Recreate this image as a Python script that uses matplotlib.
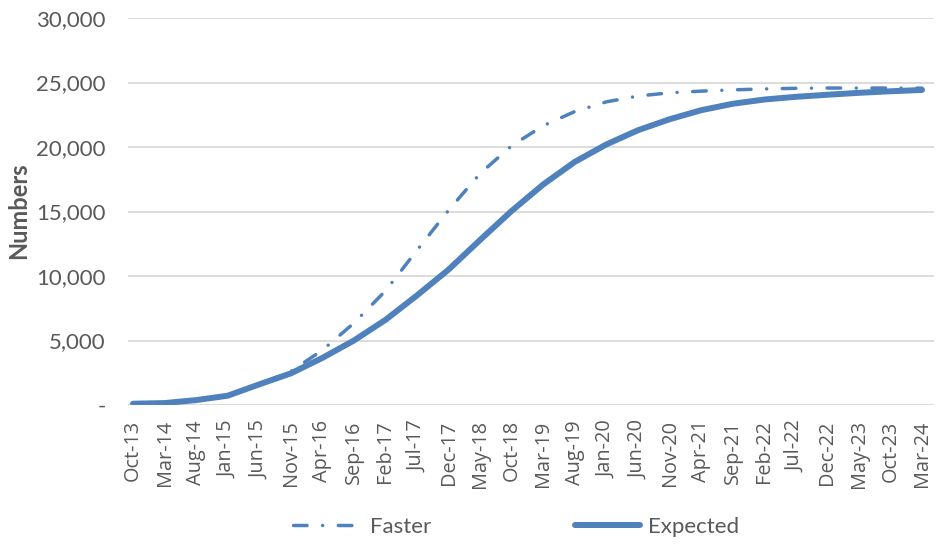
import matplotlib
matplotlib.use("Agg")
import matplotlib.pyplot as plt
from matplotlib.lines import Line2D

# ---- data (values read at every 5th month, Oct-13 .. Mar-24) ----
tick_labels = ["Oct-13", "Mar-14", "Aug-14", "Jan-15", "Jun-15", "Nov-15", "Apr-16",
               "Sep-16", "Feb-17", "Jul-17", "Dec-17", "May-18", "Oct-18", "Mar-19",
               "Aug-19", "Jan-20", "Jun-20", "Nov-20", "Apr-21", "Sep-21", "Feb-22",
               "Jul-22", "Dec-22", "May-23", "Oct-23", "Mar-24"]
month_index = [0, 5, 10, 15, 20, 25, 30, 35, 40, 45, 50, 55, 60, 65, 70, 75, 80,
               85, 90, 95, 100, 105, 110, 115, 120, 125]
expected = [100, 150, 380, 720, 1600, 2450, 3650, 5000, 6600, 8500, 10500, 12800,
            15050, 17100, 18850, 20200, 21300, 22150, 22850, 23350, 23680, 23890,
            24050, 24200, 24320, 24420]
faster = [100, 150, 380, 720, 1600, 2600, 4250, 6350, 8850, 12000, 15100, 17950,
          20100, 21650, 22750, 23500, 23950, 24200, 24330, 24430, 24500, 24550,
          24570, 24570, 24570, 24560]
y_ticks = [0, 5000, 10000, 15000, 20000, 25000, 30000]
y_tick_labels = ["-", "5,000", "10,000", "15,000", "20,000", "25,000", "30,000"]

color = "#4F81BD"
txt = "#595959"
W, H = 936, 545
fig = plt.figure(figsize=(W / 100, H / 100), dpi=100)
left, right, top, bottom = 128, 934, 18, 405
ax = fig.add_axes([left / W, 1 - bottom / H, (right - left) / W, (bottom - top) / H])

dash_pat = [3.9, 4.5, 0.01, 4.5]
ax.plot(month_index, expected, color=color, lw=4.3, solid_capstyle="round",
        solid_joinstyle="round", zorder=3)
ax.plot(month_index, faster, color=color, lw=2.5, dashes=dash_pat,
        dash_capstyle="round", dash_joinstyle="round", zorder=2)

px_per_month = (922 - 133) / 125
ax.set_xlim(-(133 - left) / px_per_month, 125 + (right - 922) / px_per_month)
ax.set_ylim(0, 30000)
ax.set_xticks(month_index)
ax.set_xticklabels(tick_labels, rotation=90, fontsize=14.3, family="Open Sans",
                   color=txt)
ax.set_yticks(y_ticks)
ax.set_yticklabels(y_tick_labels, fontsize=16, family="Lato", color=txt)
ax.tick_params(axis="both", length=0)
ax.tick_params(axis="x", pad=11)
ax.tick_params(axis="y", pad=16)
ax.grid(axis="y", color="#D9D9D9", lw=1.3)
ax.set_axisbelow(True)
for s in ax.spines.values():
    s.set_visible(False)

fig.text(18.5 / W, 1 - 211 / H, "Numbers", rotation=90, ha="center", va="center",
         fontsize=17, family="Lato", fontweight="bold", color=txt)

fs = 16
em = fs * 100 / 72
h_f = Line2D([], [], color=color, lw=2.5, dashes=dash_pat, dash_capstyle="round")
h_e = Line2D([], [], color=color, lw=4.3, solid_capstyle="round")
leg1 = fig.legend([h_f], ["Faster"], loc="center left",
                  bbox_to_anchor=(293 / W, 1 - 527 / H), frameon=False,
                  prop={"family": "Lato", "size": fs}, handlelength=63 / em,
                  handletextpad=14 / em, borderpad=0, borderaxespad=0)
leg2 = fig.legend([h_e], ["Expected"], loc="center left",
                  bbox_to_anchor=(575 / W, 1 - 527 / H), frameon=False,
                  prop={"family": "Lato", "size": fs}, handlelength=65 / em,
                  handletextpad=8 / em, borderpad=0, borderaxespad=0)
for lg in (leg1, leg2):
    for t in lg.get_texts():
        t.set_color(txt)

fig.savefig("out.png", dpi=100)
